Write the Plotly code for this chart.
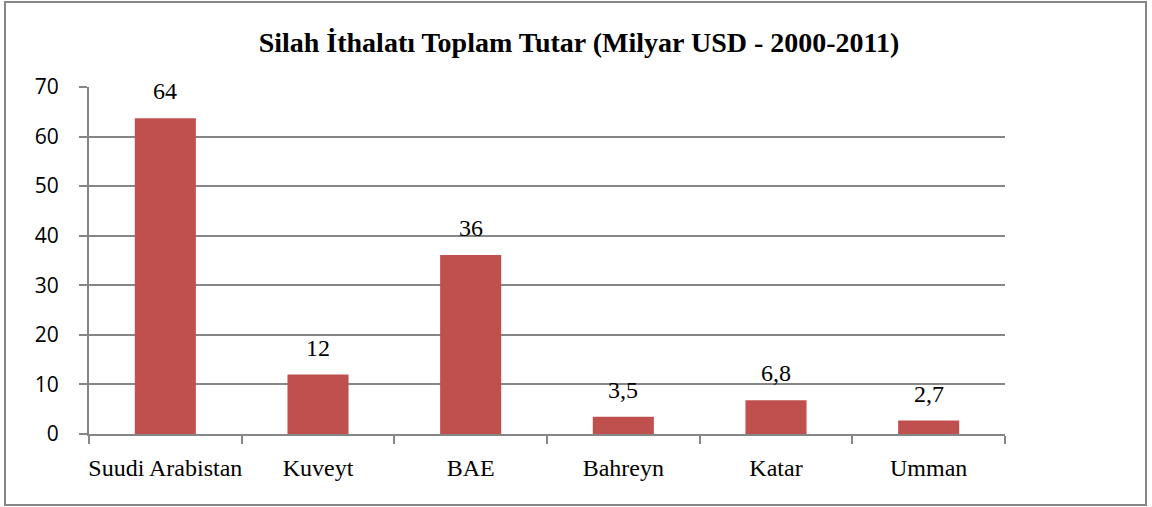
import plotly.graph_objects as go

categories = ["Suudi Arabistan", "Kuveyt", "BAE", "Bahreyn", "Katar", "Umman"]
values = [63.7, 12.0, 36.1, 3.5, 6.8, 2.7]
labels = ["64", "12", "36", "3,5", "6,8", "2,7"]
y_ticks = [0, 10, 20, 30, 40, 50, 60, 70]

W, H = 1152, 507
L, R, T, B = 89, 147, 87, 73
pw, ph = W - L - R, H - T - B
SERIF = "Liberation Serif, Times New Roman, serif"

fig = go.Figure()
fig.add_trace(go.Bar(
    x=categories, y=values, marker=dict(color="#C0504D", line=dict(width=0)),
    width=0.4, hoverinfo="x+y"))

for c, v, lab in zip(categories, values, labels):
    fig.add_annotation(x=c, y=v, text=lab, showarrow=False, yanchor="bottom",
                       yshift=12, font=dict(family=SERIF, size=24, color="#000"))

gray = "#868686"
fig.update_layout(
    width=W, height=H,
    margin=dict(l=L, r=R, t=T, b=B),
    paper_bgcolor="white", plot_bgcolor="white",
    showlegend=False,
    title=dict(text="<b>Silah İthalatı Toplam Tutar (Milyar USD - 2000-2011)</b>",
               x=579 / W, xanchor="center", y=1 - 42 / H, yanchor="middle",
               font=dict(family=SERIF, size=28, color="#000")),
    xaxis=dict(showline=True, linecolor=gray, linewidth=2, ticks="outside",
               tickson="boundaries", ticklen=8, tickcolor=gray, tickwidth=2,
               ticklabelstandoff=11, tickangle=0, automargin=False,
               tickfont=dict(family=SERIF, size=24, color="#000"),
               showgrid=False),
    yaxis=dict(range=[0, 70], tickvals=y_ticks, showline=True, linecolor=gray, linewidth=2,
               ticks="outside", ticklen=8, tickcolor=gray, tickwidth=2,
               ticklabelstandoff=16, automargin=False,
               gridcolor=gray, gridwidth=2, zeroline=False,
               tickfont=dict(family="Open Sans", size=21, color="#000")),
    shapes=[dict(type="rect", xref="paper", yref="paper",
                 x0=(5 - L) / pw, x1=(1146 - L) / pw,
                 y0=(H - B - 505) / ph, y1=(H - B - 2) / ph,
                 line=dict(color=gray, width=2), fillcolor="rgba(0,0,0,0)", layer="below")],
)

fig.write_html("out.html", config={"displayModeBar": False},
               post_script="document.body.style.margin='0';document.body.style.overflow='hidden';")
